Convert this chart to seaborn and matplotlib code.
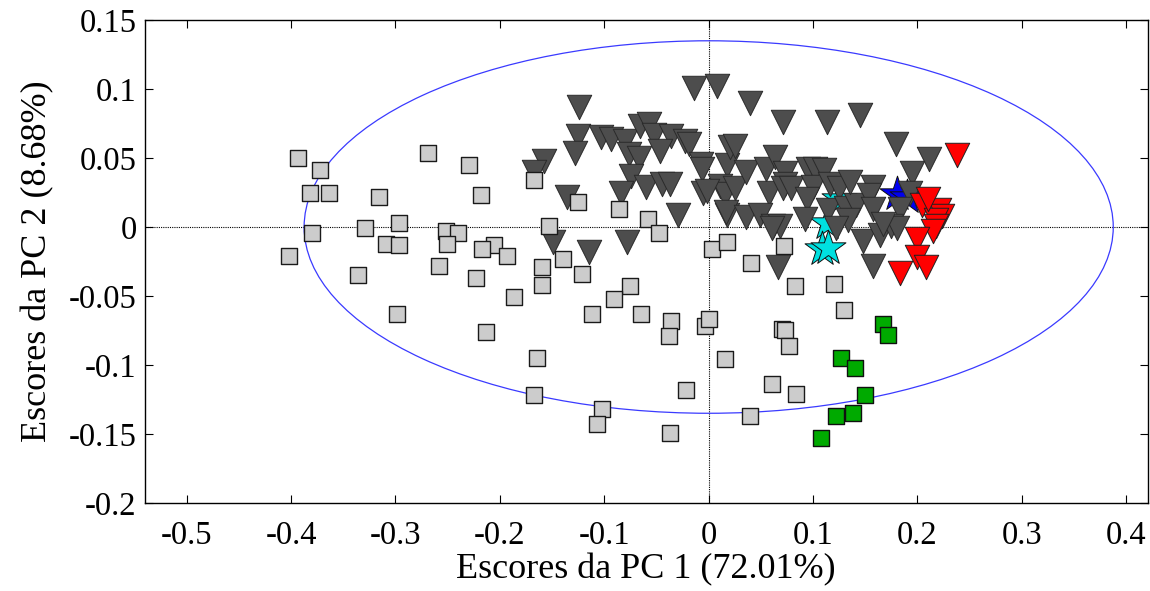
import numpy as np
import pandas as pd
import matplotlib
matplotlib.use("Agg")
import matplotlib.pyplot as plt
from matplotlib.patches import Ellipse
import seaborn as sns

# ---- data (PC1, PC2 scores) ----
sq_gray_x = [-0.393, -0.372, -0.382, -0.364, -0.316, -0.269, -0.230, -0.218, -0.167, -0.380,
             -0.329, -0.297, -0.309, -0.297, -0.252, -0.240, -0.251, -0.206, -0.217, -0.193,
             -0.402, -0.258, -0.223, -0.336, -0.186, -0.299, -0.213, -0.160, -0.160, -0.153,
             -0.164, -0.167, -0.125, -0.086, -0.058, -0.048, 0.003, 0.018, -0.140, -0.121,
             0.072, 0.041, -0.075, -0.091, -0.112, -0.065, -0.036, -0.038, -0.004, 0.000,
             0.083, 0.070, 0.073, 0.077, 0.016, -0.022, 0.061, 0.084, -0.102, -0.107,
             -0.037, 0.040, 0.120, 0.130]
sq_gray_y = [0.050, 0.041, 0.025, 0.025, 0.022, 0.054, 0.045, 0.023, 0.034, -0.004,
             -0.001, 0.003, -0.012, -0.013, -0.003, -0.004, -0.012, -0.013, -0.016, -0.021,
             -0.021, -0.028, -0.037, -0.035, -0.051, -0.063, -0.076, -0.029, -0.042, 0.001,
             -0.095, -0.122, 0.018, 0.013, 0.006, -0.004, -0.016, -0.011, -0.023, -0.034,
             -0.014, -0.026, -0.043, -0.052, -0.063, -0.063, -0.068, -0.079, -0.072, -0.067,
             -0.043, -0.074, -0.075, -0.086, -0.096, -0.118, -0.114, -0.121, -0.132, -0.143,
             -0.149, -0.137, -0.041, -0.060]

tri_gray_x = [-0.014, 0.008, -0.124, -0.125, -0.128, -0.103, -0.094, -0.080, -0.066, -0.057,
              -0.052, -0.036, -0.023, -0.019, -0.076, -0.067, -0.047, -0.007, -0.006, 0.018,
              0.020, 0.025, -0.158, -0.167, -0.074, -0.060, -0.045, -0.037, -0.084, -0.136,
              -0.005, 0.011, 0.016, 0.025, -0.029, 0.018, -0.149, -0.115, -0.078, 0.066,
              0.040, 0.071, 0.113, 0.145, 0.179, 0.211, 0.195, 0.036, 0.055, 0.064,
              0.073, 0.073, 0.095, 0.102, 0.110, -0.002, 0.058, 0.071, 0.079, 0.100,
              0.116, 0.125, 0.094, 0.114, 0.132, 0.141, 0.157, 0.154, 0.157, 0.193,
              0.183, 0.017, 0.036, 0.049, 0.062, 0.068, 0.092, 0.133, 0.122, 0.148,
              0.164, 0.175, 0.180, 0.157, 0.061, 0.135, 0.167]
tri_gray_y = [0.101, 0.102, 0.087, 0.066, 0.054, 0.065, 0.064, 0.062, 0.073, 0.075,
              0.067, 0.066, 0.062, 0.060, 0.053, 0.050, 0.055, 0.046, 0.042, 0.045,
              0.058, 0.059, 0.048, 0.040, 0.037, 0.029, 0.031, 0.031, 0.025, 0.022,
              0.025, 0.030, 0.024, 0.028, 0.009, 0.009, -0.011, -0.018, -0.011, -0.029,
              0.090, 0.076, 0.076, 0.081, 0.060, 0.049, 0.039, 0.040, 0.042, 0.051,
              0.039, 0.031, 0.042, 0.042, 0.041, 0.026, 0.025, 0.028, 0.028, 0.029,
              0.031, 0.028, 0.020, 0.012, 0.014, 0.016, 0.029, 0.023, 0.013, 0.025,
              0.013, 0.011, 0.007, 0.009, 0.001, 0.001, 0.006, 0.005, -0.001, -0.010,
              -0.006, 0.001, -0.001, -0.028, -0.001, 0.033, 0.002]

tri_red_x = [0.238, 0.204, 0.221, 0.223, 0.218, 0.218, 0.215, 0.200, 0.200, 0.208, 0.183, 0.210]
tri_red_y = [0.052, 0.016, 0.012, 0.008, 0.005, 0.001, -0.003, -0.009, -0.022, -0.029, -0.033, 0.020]

sq_green_x = [0.167, 0.172, 0.127, 0.140, 0.150, 0.122, 0.138, 0.108]
sq_green_y = [-0.070, -0.078, -0.095, -0.102, -0.122, -0.137, -0.135, -0.153]

star_cyan_x = [0.125, 0.113, 0.109, 0.114]
star_cyan_y = [0.020, 0.003, -0.016, -0.015]

star_blue_x = [0.180, 0.190]
star_blue_y = [0.024, 0.022]

# confidence ellipse parameters
ell_center = (0.0, 0.0)
ell_width = 0.775
ell_height = 0.270

x_ticks = [-0.5, -0.4, -0.3, -0.2, -0.1, 0, 0.1, 0.2, 0.3, 0.4]
x_labels = ["-0.5", "-0.4", "-0.3", "-0.2", "-0.1", "0", "0.1", "0.2", "0.3", "0.4"]
y_ticks = [-0.2, -0.15, -0.1, -0.05, 0, 0.05, 0.1, 0.15]
y_labels = ["-0.2", "-0.15", "-0.1", "-0.05", "0", "0.05", "0.1", "0.15"]

# ---- plotting ----
sns.set_theme(style="white")
plt.rcParams['font.family'] = ['Liberation Serif', 'DejaVu Serif']
plt.rcParams['text.color'] = 'black'
plt.rcParams['axes.labelcolor'] = 'black'
plt.rcParams['xtick.color'] = 'black'
plt.rcParams['ytick.color'] = 'black'

fig = plt.figure(figsize=(11.5, 5.91), dpi=100)
ax = fig.add_axes([0.126, 0.149, 0.872, 0.817])

def df(x, y):
    return pd.DataFrame({"PC1": x, "PC2": y})

ax.axhline(0, color="black", lw=0.8, ls=(0, (1, 1)), zorder=1)
ax.axvline(0, color="black", lw=0.8, ls=(0, (1, 1)), zorder=1)
ax.add_patch(Ellipse(ell_center, ell_width, ell_height, fill=False,
                     edgecolor="#3a3aff", lw=0.9, zorder=1))

sns.scatterplot(data=df(star_cyan_x, star_cyan_y), x="PC1", y="PC2", marker="*",
                s=700, color="#00e0e0", edgecolor="#101010", linewidth=0.7, ax=ax, zorder=2)
sns.scatterplot(data=df(star_blue_x, star_blue_y), x="PC1", y="PC2", marker="*",
                s=700, color="#0000f0", edgecolor="#101010", linewidth=0.7, ax=ax, zorder=2)
sns.scatterplot(data=df(tri_gray_x, tri_gray_y), x="PC1", y="PC2", marker="v",
                s=310, color="#4d4d4d", edgecolor="#2a2a2a", linewidth=0.7, ax=ax, zorder=3)
sns.scatterplot(data=df(sq_gray_x, sq_gray_y), x="PC1", y="PC2", marker="s",
                s=140, color="#cccccc", edgecolor="#1a1a1a", linewidth=1.0, ax=ax, zorder=4)
sns.scatterplot(data=df(tri_red_x, tri_red_y), x="PC1", y="PC2", marker="v",
                s=310, color="#ff0000", edgecolor="#202020", linewidth=0.7, ax=ax, zorder=5)
sns.scatterplot(data=df(sq_green_x, sq_green_y), x="PC1", y="PC2", marker="s",
                s=140, color="#00aa00", edgecolor="#101010", linewidth=1.0, ax=ax, zorder=5)

ax.set_xlim(-0.540, 0.4205)
ax.set_ylim(-0.2, 0.15)
ax.set_xticks(x_ticks)
ax.set_xticklabels(x_labels)
ax.set_yticks(y_ticks)
ax.set_yticklabels(y_labels)
ax.tick_params(direction="in", length=6, width=0.8, labelsize=23.5, color="black",
               labelcolor="black", top=True, right=True, bottom=True, left=True)
ax.tick_params(axis="x", pad=13)
ax.tick_params(axis="y", pad=6)
for sp in ax.spines.values():
    sp.set_color("black")
    sp.set_linewidth(1.0)
ax.set_xlabel("Escores da PC 1 (72.01%)", fontsize=26, labelpad=1, color="black")
ax.set_ylabel("Escores da PC 2 (8.68%)", fontsize=26, labelpad=10, color="black")
ax.grid(False)

fig.savefig("out.png", dpi=100)
